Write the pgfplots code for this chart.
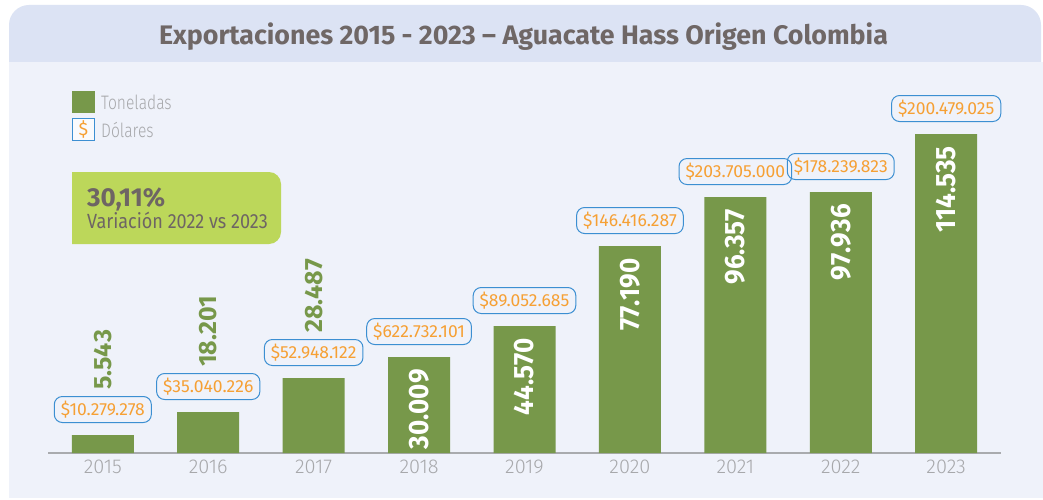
\documentclass[border=0pt]{standalone}
\usepackage{pgfplots}
\pgfplotsset{compat=1.18}
\usepackage{pgfplotstable}
\usepackage{fontspec}
\setmainfont{Fira Sans}
\newfontfamily\condfont{Fira Sans}[FakeStretch=0.88]
\newfontfamily\boldcond{Fira Sans}[FakeStretch=0.93, Kerning=Off]
\newfontfamily\boldplain{Fira Sans}[Kerning=Off]
\newfontfamily\lightfont{Fira Sans Light}
\newfontfamily\lightcond{Fira Sans Light}[FakeStretch=0.8]
\definecolor{bargreen}{HTML}{77984A}
\definecolor{titlebg}{HTML}{DCE3F4}
\definecolor{bodybg}{HTML}{EFF2FA}
\definecolor{titlegray}{HTML}{6F6766}
\definecolor{tickgray}{HTML}{A7A8AB}
\definecolor{axisgray}{HTML}{A9ABAE}
\definecolor{boxblue}{HTML}{3C8FD2}
\definecolor{usdorange}{HTML}{F6A034}
\definecolor{boxgreen}{HTML}{BCD75A}
\definecolor{boxtext}{HTML}{6E6564}

% h = bar height as drawn in the reference (tonnes scale), tl = printed tonnes, usd = printed dollars
\pgfplotstableread{
x h tl usd
0 6463 5.543 10.279.278
1 14721 18.201 35.040.226
2 26928 28.487 52.948.122
3 34468 30.009 622.732.101
4 45598 44.570 89.052.685
5 74322 77.190 146.416.287
6 91914 96.357 203.705.000
7 93710 97.936 178.239.823
8 114535 114.535 200.479.025
}\datatable

\begin{document}
\begin{tikzpicture}[x=1pt,y=1pt]
\useasboundingbox (0,0) rectangle (1043,499);
\fill[white] (0,0) rectangle (1043,499);
\fill[bodybg] (9,1) rectangle (1043,437);
\fill[titlebg] (9,437) -- (9,474) arc[start angle=180,end angle=90,radius=20] -- (1021,494) arc[start angle=90,end angle=0,radius=20] -- (1041,437) -- cycle;
\node[anchor=base, text=titlegray, inner sep=0, font=\fontsize{26.8}{30}\selectfont\bfseries] at (523.5,454) {Exportaciones 2015 - 2023 – Aguacate Hass Origen Colombia};

% legend
\fill[bargreen] (72,386) rectangle (95,408);
\node[anchor=west, inner sep=0, text=tickgray, font=\lightcond\fontsize{19.5}{24}\selectfont] at (101,397) {Toneladas};
\draw[boxblue, line width=1pt, fill=white!60!bodybg] (72.5,358.5) rectangle (94.5,380.5);
\node[text=usdorange, inner sep=0, font=\fontsize{18}{22}\selectfont] at (83.5,369.5) {\$};
\node[anchor=west, inner sep=0, text=tickgray, font=\lightcond\fontsize{19.5}{24}\selectfont] at (101,369) {Dólares};

% variation box
\fill[boxgreen] (72,255) -- (72,327) -- (269,327) arc[start angle=90,end angle=0,radius=12] -- (281,267) arc[start angle=0,end angle=-90,radius=12] -- cycle;
\node[anchor=base west, inner sep=0, text=boxtext, font=\fontsize{26}{30}\selectfont\bfseries] at (87,293) {30,11\%};
\node[anchor=base west, inner sep=0, text=boxtext, font=\condfont\fontsize{20.5}{24}\selectfont] at (87,271) {Variación 2022 vs 2023};

\begin{axis}[
  at={(48pt,46pt)}, anchor=south west,
  scale only axis, width=953pt, height=334.2pt,
  xmin=-0.52, xmax=8.52, ymin=0, ymax=120000,
  axis y line=none,
  axis x line*=bottom,
  x axis line style={draw=axisgray, line width=1.5pt, -},
  xtick={0,...,8},
  xticklabels={2015,2016,2017,2018,2019,2020,2021,2022,2023},
  major tick length=0pt,
  ytick=\empty,
  xticklabel style={text=tickgray, font=\lightfont\fontsize{20}{24}\selectfont, yshift=-3pt},
  clip=false,
]
\addplot[ybar, bar width=62pt, fill=bargreen, draw=none] table[x=x,y=h] {\datatable};

% dollar boxes
\addplot[draw=none, mark=none,
  nodes near coords={\$\pgfplotspointmeta},
  point meta=explicit symbolic,
  every node near coord/.append style={anchor=south, yshift=12pt,
    draw=boxblue, line width=1pt, rounded corners=8pt, text=usdorange,
    minimum height=26pt, inner xsep=6.5pt, inner ysep=0pt,
    font=\fontsize{17.5}{20}\selectfont}]
  table[x=x,y=h,meta=usd] {\datatable};

% ton labels outside
\addplot[draw=none, mark=none, restrict x to domain=-0.5:2.5,
  nodes near coords,
  point meta=explicit symbolic,
  every node near coord/.append style={yshift=45pt, rotate=90, anchor=west,
    inner sep=0pt, text=bargreen, font=\boldplain\fontsize{25}{28}\selectfont\bfseries}]
  table[x=x,y=h,meta=tl] {\datatable};

% ton labels inside
\addplot[draw=none, mark=none, restrict x to domain=2.5:8.5,
  nodes near coords,
  point meta=explicit symbolic,
  every node near coord/.append style={yshift=-12pt, rotate=90, anchor=east,
    inner sep=0pt, text=white, font=\boldcond\fontsize{28}{32}\selectfont\bfseries}]
  table[x=x,y=h,meta=tl] {\datatable};
\end{axis}
\end{tikzpicture}
\end{document}
